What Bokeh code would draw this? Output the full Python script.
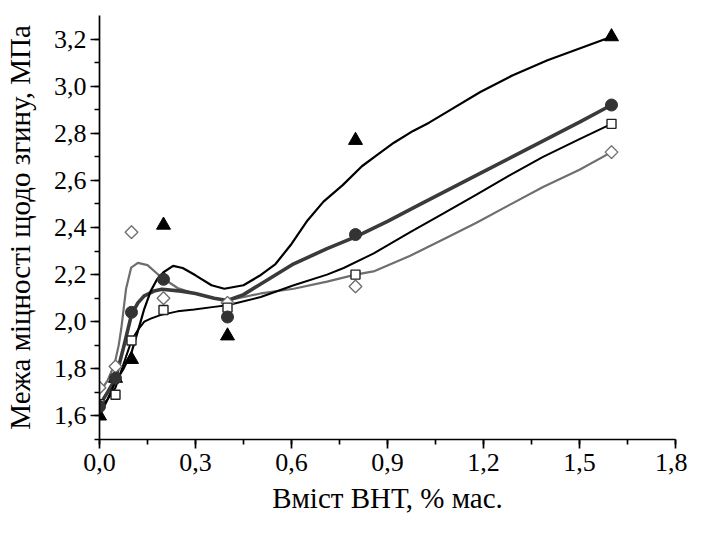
import numpy as np
from bokeh.plotting import figure
from bokeh.models import Range1d, SingleIntervalTicker, CustomJSTickFormatter
from bokeh.embed import file_html
from bokeh.resources import INLINE

# ---- measured points ----
x_pts = [0.0, 0.05, 0.1, 0.2, 0.4, 0.8, 1.6]
tri_y = [1.60, 1.76, 1.84, 2.41, 1.94, 2.77, 3.21]
circ_y = [1.64, 1.76, 2.04, 2.18, 2.02, 2.37, 2.92]
sq_y = [1.65, 1.69, 1.92, 2.05, 2.06, 2.20, 2.84]
dia_y = [1.72, 1.81, 2.38, 2.10, 2.08, 2.15, 2.72]

# ---- fitted curves ----
tri_fx = [0.0, 0.025, 0.05, 0.075, 0.1, 0.12, 0.14, 0.16, 0.18, 0.2, 0.23, 0.26, 0.3, 0.35, 0.39,
          0.45, 0.5, 0.55, 0.6, 0.65, 0.7, 0.76, 0.82, 0.87, 0.92, 0.98, 1.03, 1.085, 1.19, 1.29,
          1.4, 1.5, 1.6]
tri_fy = [1.60, 1.67, 1.745, 1.80, 1.87, 1.96, 2.055, 2.13, 2.18, 2.21, 2.237, 2.228, 2.197, 2.155, 2.14,
          2.155, 2.195, 2.245, 2.33, 2.43, 2.51, 2.58, 2.66, 2.71, 2.76, 2.81, 2.845, 2.89, 2.975, 3.045,
          3.11, 3.16, 3.21]

circ_fx = [0.0, 0.025, 0.05, 0.075, 0.1, 0.12, 0.14, 0.17, 0.195, 0.255, 0.3, 0.358, 0.4, 0.45, 0.504,
           0.607, 0.711, 0.8, 0.9, 1.0, 1.1, 1.2, 1.3, 1.4, 1.5, 1.6]
circ_fy = [1.645, 1.70, 1.758, 1.89, 2.03, 2.08, 2.11, 2.13, 2.138, 2.13, 2.12, 2.10, 2.09, 2.115, 2.16,
           2.246, 2.31, 2.36, 2.426, 2.497, 2.567, 2.637, 2.707, 2.777, 2.847, 2.92]

sq_fx = [0.0, 0.025, 0.05, 0.075, 0.1, 0.12, 0.14, 0.16, 0.19, 0.244, 0.296, 0.358, 0.4, 0.504, 0.607,
         0.711, 0.763, 0.857, 0.971, 1.075, 1.178, 1.28, 1.386, 1.5, 1.6]
sq_fy = [1.63, 1.67, 1.72, 1.82, 1.92, 1.965, 2.0, 2.013, 2.028, 2.044, 2.052, 2.063, 2.07, 2.105, 2.155,
         2.20, 2.228, 2.29, 2.38, 2.46, 2.54, 2.62, 2.70, 2.775, 2.84]

dia_fx = [0.0, 0.025, 0.047, 0.06, 0.068, 0.083, 0.099, 0.12, 0.15, 0.192, 0.244, 0.296, 0.358, 0.4,
          0.504, 0.607, 0.711, 0.8, 0.86, 0.971, 1.075, 1.178, 1.28, 1.386, 1.5, 1.6]
dia_fy = [1.70, 1.75, 1.82, 1.90, 1.97, 2.14, 2.23, 2.25, 2.24, 2.19, 2.143, 2.12, 2.10, 2.09,
          2.12, 2.14, 2.17, 2.20, 2.215, 2.28, 2.35, 2.42, 2.495, 2.572, 2.645, 2.72]

x_ticks_interval = 0.3
y_ticks_interval = 0.2

FONT = "Liberation Serif"

p = figure(width=687, height=519, output_backend="svg", toolbar_location=None,
           x_range=Range1d(0, 1.8), y_range=Range1d(1.5, 3.3),
           min_border_left=97, min_border_right=12, min_border_top=15, min_border_bottom=80)
p.outline_line_color = None
p.xgrid.visible = False
p.ygrid.visible = False
p.background_fill_color = "white"

fmt = CustomJSTickFormatter(code="return tick.toFixed(1).replace('.', ',');")
p.xaxis.ticker = SingleIntervalTicker(interval=x_ticks_interval, num_minor_ticks=2)
p.yaxis.ticker = SingleIntervalTicker(interval=y_ticks_interval, num_minor_ticks=2)
p.xaxis.formatter = fmt
p.yaxis.formatter = fmt

for ax in (p.xaxis, p.yaxis):
    ax.axis_line_width = 1.7
    ax.axis_line_color = "black"
    ax.major_tick_line_width = 1.7
    ax.minor_tick_line_width = 1.7
    ax.major_tick_out = 9
    ax.major_tick_in = 0
    ax.minor_tick_out = 5
    ax.minor_tick_in = 0
    ax.major_label_text_font = FONT
    ax.major_label_text_font_size = "26px"
    ax.major_label_text_color = "black"
    ax.axis_label_text_font = FONT
    ax.axis_label_text_font_size = "29px"
    ax.axis_label_text_font_style = "normal"
    ax.axis_label_text_color = "black"

p.xaxis.axis_label = "Вміст ВНТ, % мас."
p.yaxis.axis_label = "Межа міцності щодо згину, МПа"
p.xaxis.major_label_standoff = 5
p.yaxis.major_label_standoff = 4
p.xaxis.axis_label_standoff = 8
p.yaxis.axis_label_standoff = 15

# curves
p.line(dia_fx, dia_fy, line_color="#6e6e6e", line_width=2.2)
p.line(sq_fx, sq_fy, line_color="black", line_width=2.0)
p.line(circ_fx, circ_fy, line_color="#3a3a3a", line_width=3.6)
p.line(tri_fx, tri_fy, line_color="black", line_width=2.2)

# markers
p.scatter(x_pts, tri_y, marker="triangle", size=14, fill_color="black", line_color="black")
p.scatter(x_pts, dia_y, marker="square", angle=np.pi / 4, size=9, fill_color="white",
          line_color="#707070", line_width=1.4)
p.scatter(x_pts, sq_y, marker="square", size=9, fill_color="white",
          line_color="#222222", line_width=1.4)
p.scatter(x_pts, circ_y, marker="circle", size=12, fill_color="#333333", line_color="#333333")

open("out.html", "w").write(file_html(p, INLINE))
